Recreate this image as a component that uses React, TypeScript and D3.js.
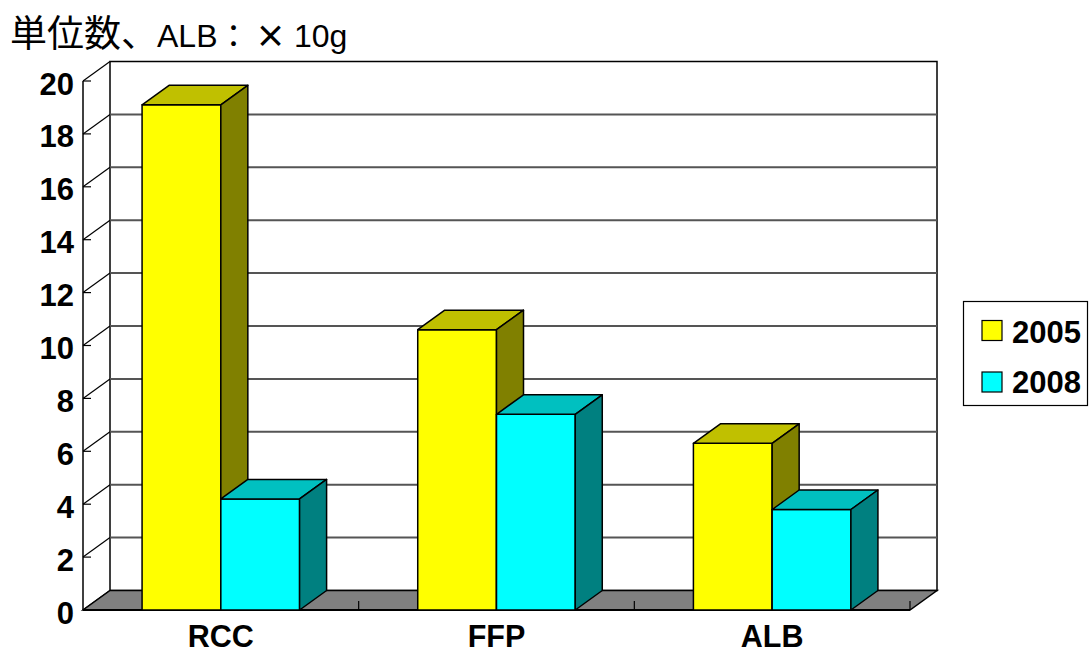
import React from "react";
import * as d3 from "d3";

// Blood product usage per category
const categories = ["RCC", "FFP", "ALB"];
const seriesNames = ["2005", "2008"];
const values2005 = [19.1, 10.6, 6.3];
const values2008 = [4.2, 7.4, 3.8];
const yTicks = [0, 2, 4, 6, 8, 10, 12, 14, 16, 18, 20];
const titleParts = ["単位数、", "ALB", "：", "×", "10g"];

const seriesValues = [values2005, values2008];
const frontColors = ["#FFFF00", "#00FFFF"];
const topColors = ["#C0C000", "#00C0C0"];
const sideColors = ["#808000", "#008080"];

const W = 1091;
const H = 652;
// Front plane of the plot and the 3D depth offset
const X0 = 83;
const X1 = 910;
const Y0 = 610;
const Y20 = 81;
const DX = 27;
const DY = -19.5;

const LATIN = "'Liberation Sans', Arial, Helvetica, sans-serif";
const CJK = "'Noto Sans CJK JP', 'Noto Sans CJK SC', sans-serif";

export default function App() {
  const y = d3.scaleLinear().domain([0, 20]).range([Y0, Y20]);
  const x0 = d3.scaleBand<string>().domain(categories).range([X0, X1]).paddingInner(0).paddingOuter(0);
  const x1 = d3
    .scaleBand<string>()
    .domain(seriesNames)
    .range([0, x0.bandwidth()])
    .paddingInner(0)
    .paddingOuter(0.75);

  const pts = (p: [number, number][]) => p.map((q) => q.join(",")).join(" ");

  return (
    <svg
      width={W}
      height={H}
      style={{ position: "absolute", left: 0, top: 0, background: "#fff" }}
    >
      {/* unit caption */}
      <text y={47} fill="#000">
        <tspan x={10} fontFamily={CJK} fontSize={37}>{titleParts[0]}</tspan>
        <tspan x={157} fontFamily={LATIN} fontSize={32}>{titleParts[1]}</tspan>
        <tspan x={218} fontFamily={CJK} fontSize={31}>{titleParts[2]}</tspan>
        <tspan x={255} fontFamily={CJK} fontSize={31} fontWeight="bold">{titleParts[3]}</tspan>
        <tspan x={294} fontFamily={LATIN} fontSize={32}>{titleParts[4]}</tspan>
      </text>

      {/* back wall */}
      <rect
        x={X0 + DX}
        y={y(20) + DY}
        width={X1 - X0}
        height={y(0) - y(20)}
        fill="#fff"
        stroke="#000"
        strokeWidth={1.5}
      />
      {yTicks.slice(1, -1).map((t) => (
        <line
          key={"g" + t}
          x1={X0 + DX}
          x2={X1 + DX}
          y1={y(t) + DY}
          y2={y(t) + DY}
          stroke="#555"
          strokeWidth={2}
        />
      ))}

      {/* left wall edges */}
      {yTicks.map((t) => (
        <g key={"l" + t}>
          <line x1={X0} y1={y(t)} x2={X0 + DX} y2={y(t) + DY} stroke="#000" strokeWidth={1.2} />
          <line x1={X0} y1={y(t)} x2={X0 + 8} y2={y(t)} stroke="#000" strokeWidth={1.2} />
          <text
            x={74}
            y={y(t) + 13.5}
            textAnchor="end"
            fontFamily={LATIN}
            fontWeight="bold"
            fontSize={31}
            fill="#000"
          >
            {t}
          </text>
        </g>
      ))}
      <line x1={X0} y1={y(0)} x2={X0} y2={y(20)} stroke="#000" strokeWidth={1.5} />

      {/* floor */}
      <polygon
        points={pts([
          [X0, Y0],
          [X1, Y0],
          [X1 + DX, Y0 + DY],
          [X0 + DX, Y0 + DY],
        ])}
        fill="#808080"
        stroke="#000"
        strokeWidth={1.5}
      />
      {categories.map((c) => (
        <line
          key={"ct" + c}
          x1={(x0(c) as number) + x0.bandwidth()}
          x2={(x0(c) as number) + x0.bandwidth()}
          y1={Y0}
          y2={Y0 - 9}
          stroke="#000"
          strokeWidth={1.2}
        />
      ))}
      <line x1={X0} x2={X1} y1={Y0} y2={Y0} stroke="#000" strokeWidth={2} />

      {/* bars */}
      {categories.map((c, ci) =>
        seriesNames.map((s, si) => {
          const v = seriesValues[si][ci];
          const bx = (x0(c) as number) + (x1(s) as number);
          const bw = x1.bandwidth();
          const yt = y(v);
          const yb = y(0);
          return (
            <g key={c + s} stroke="#000" strokeWidth={1.5} strokeLinejoin="round">
              <rect x={bx} y={yt} width={bw} height={yb - yt} fill={frontColors[si]} />
              <polygon
                points={pts([
                  [bx, yt],
                  [bx + DX, yt + DY],
                  [bx + bw + DX, yt + DY],
                  [bx + bw, yt],
                ])}
                fill={topColors[si]}
              />
              <polygon
                points={pts([
                  [bx + bw, yt],
                  [bx + bw + DX, yt + DY],
                  [bx + bw + DX, yb + DY],
                  [bx + bw, yb],
                ])}
                fill={sideColors[si]}
              />
            </g>
          );
        })
      )}

      {/* category labels */}
      {categories.map((c) => (
        <text
          key={"cl" + c}
          x={(x0(c) as number) + x0.bandwidth() / 2}
          y={647}
          textAnchor="middle"
          fontFamily={LATIN}
          fontWeight="bold"
          fontSize={30.5}
          fill="#000"
        >
          {c}
        </text>
      ))}

      {/* legend */}
      <rect x={963.5} y={301.5} width={124} height={104} fill="#fff" stroke="#000" strokeWidth={1.2} />
      {seriesNames.map((s, si) => (
        <g key={"lg" + s}>
          <rect
            x={982}
            y={320.5 + si * 51.5}
            width={20}
            height={20}
            fill={frontColors[si]}
            stroke="#000"
            strokeWidth={1.2}
          />
          <text
            x={1012}
            y={342.5 + si * 50}
            fontFamily={LATIN}
            fontWeight="bold"
            fontSize={31}
            fill="#000"
          >
            {s}
          </text>
        </g>
      ))}
    </svg>
  );
}
